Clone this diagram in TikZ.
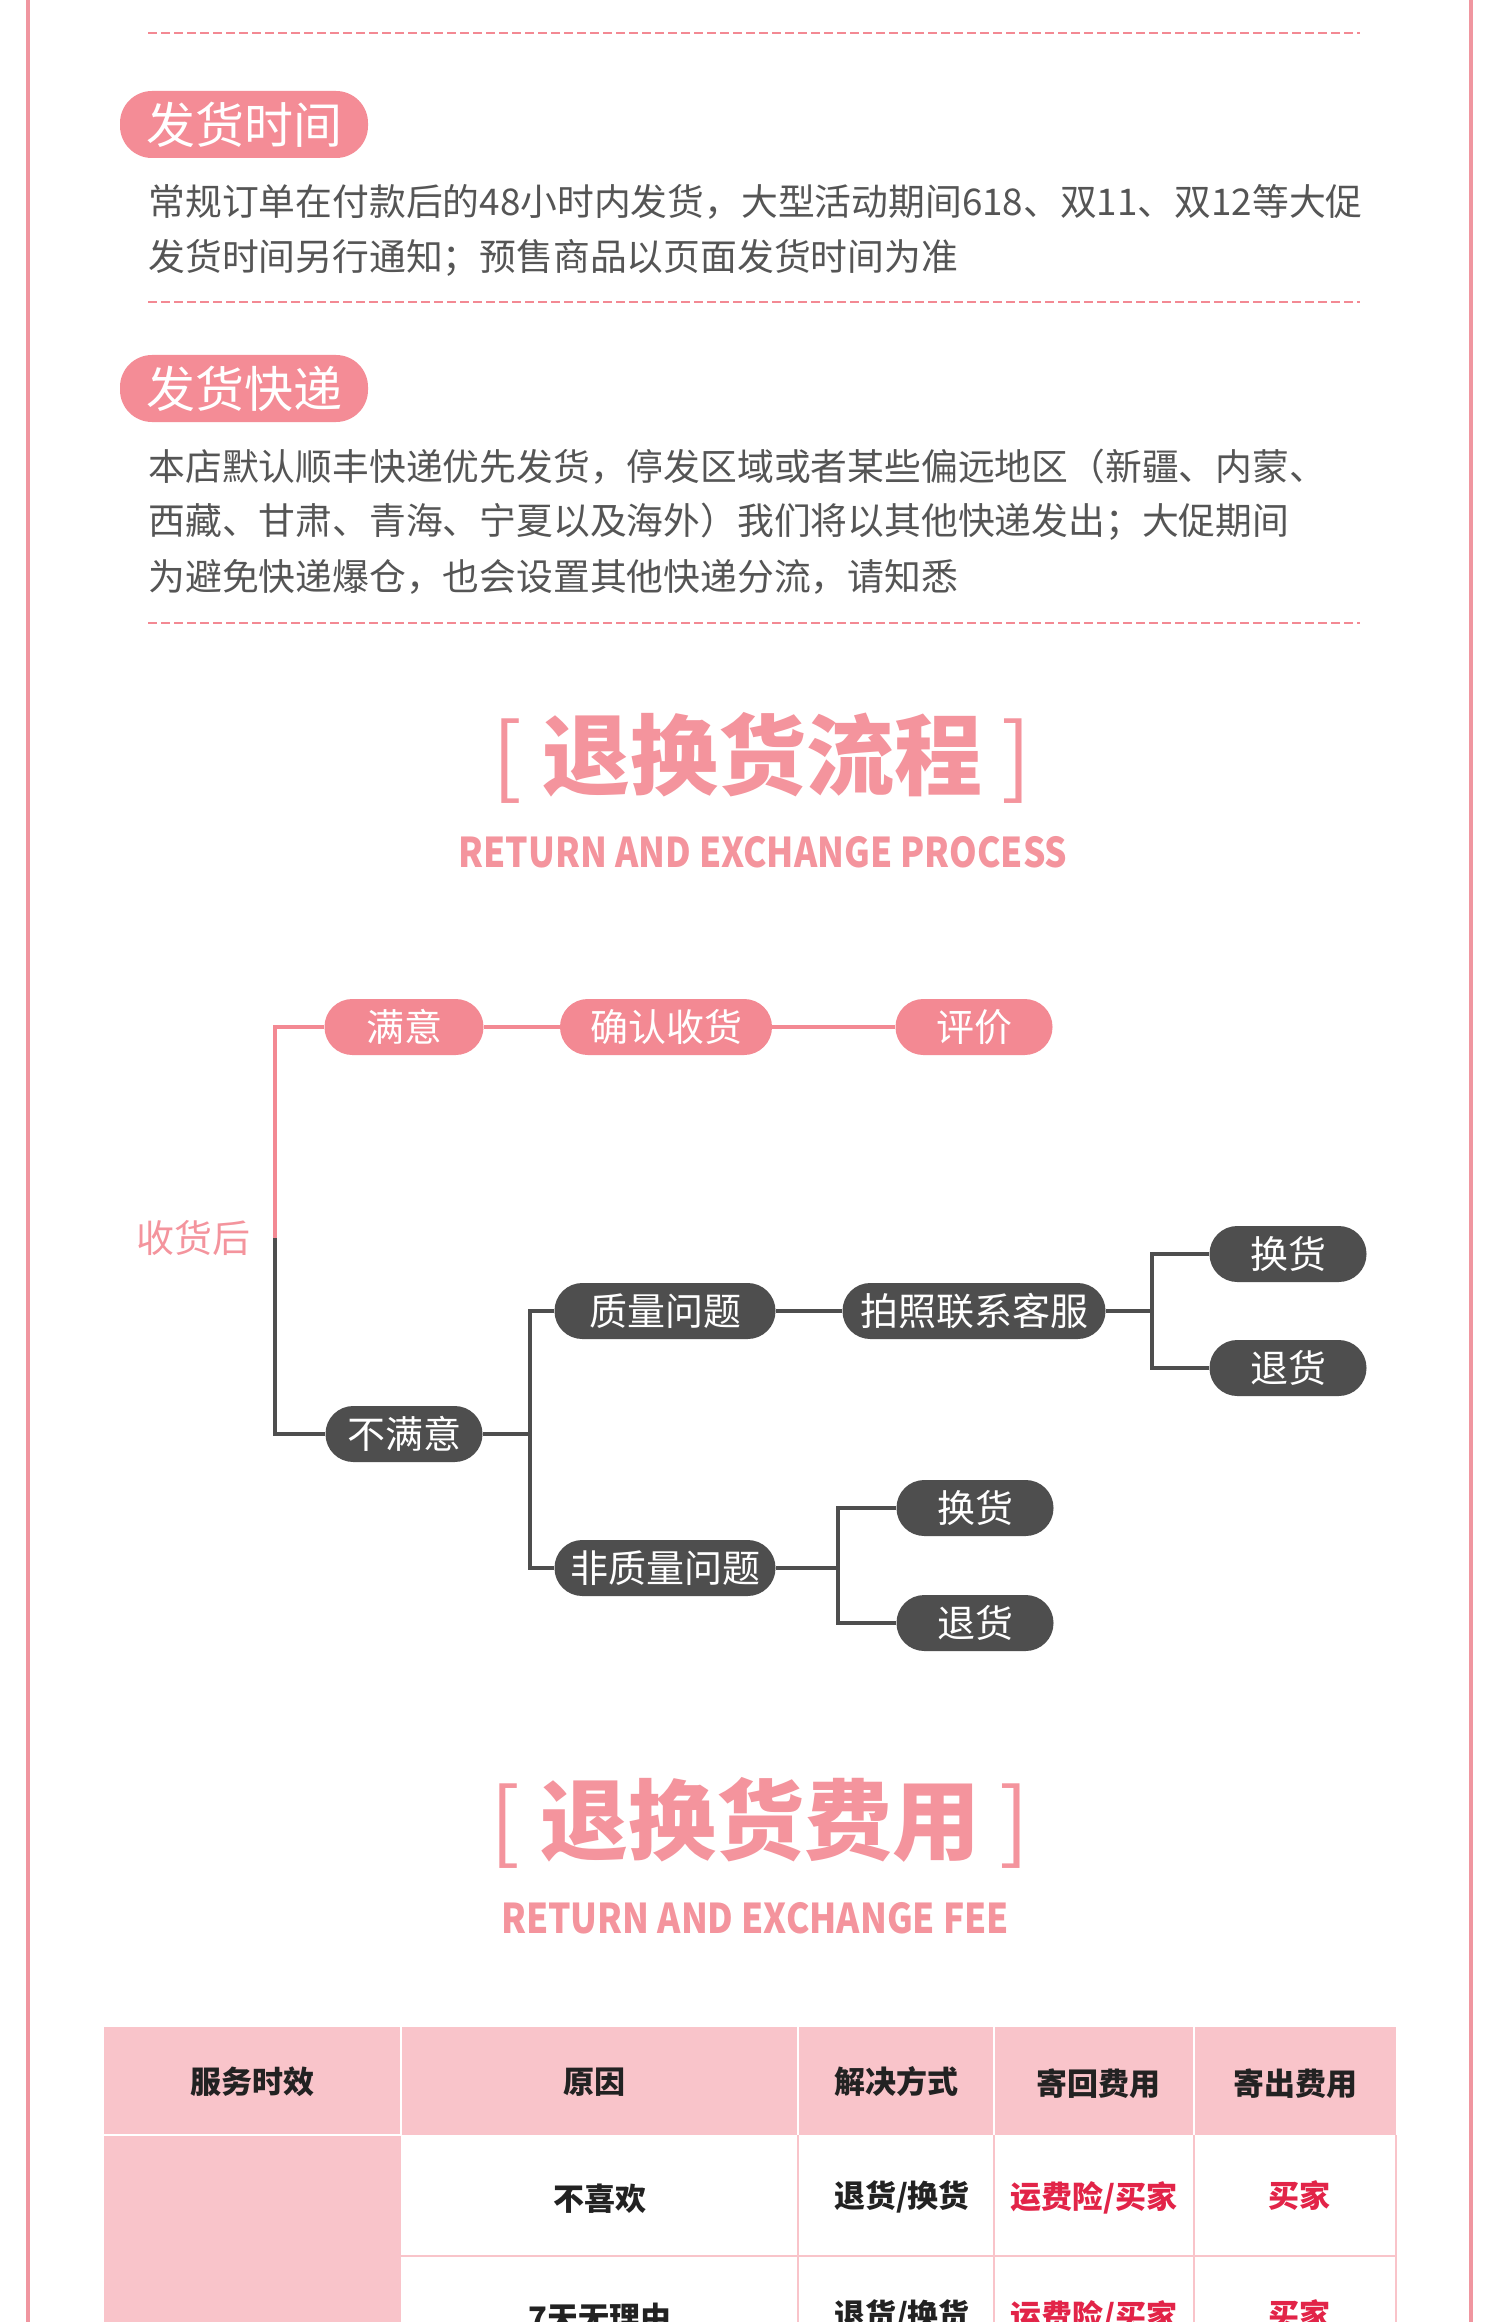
\documentclass[tikz,border=0pt]{standalone}
\usepackage{fontspec}
\setmainfont{Noto Sans CJK SC}
\definecolor{pinkA}{RGB}{243,137,147}
\definecolor{pinkB}{RGB}{244,140,150}
\definecolor{pinkT}{RGB}{244,148,157}
\definecolor{pinkBorder}{RGB}{240,150,160}
\definecolor{pinkHdr}{RGB}{249,196,202}
\definecolor{darkA}{RGB}{78,78,78}
\definecolor{textgray}{RGB}{85,85,85}
\definecolor{tblred}{RGB}{226,36,72}
\definecolor{tbltext}{RGB}{34,34,34}
\begin{document}
\begin{tikzpicture}[x=0.5pt,y=-0.5pt,
  pill/.style={rectangle, rounded corners=13.9pt, minimum height=28pt, inner sep=0pt, text=white, font=\fontsize{19}{19}\selectfont},
  pinkpill/.style={pill, fill=pinkA},
  darkpill/.style={pill, fill=darkA},
  pinkline/.style={draw=pinkA, line width=1.6pt},
  darkline/.style={draw=darkA, line width=1.6pt},
  para/.style={anchor=west, text=textgray, font=\fontsize{18.4}{18.4}\selectfont, inner sep=0pt},
  badge/.style={rectangle, rounded corners=16pt, fill=pinkB, text=white, minimum width=124pt, minimum height=33.5pt, inner sep=0pt, font=\fontsize{24.5}{24.5}\selectfont},
  dashsep/.style={draw=pinkA, line width=1pt, dash pattern=on 4.5pt off 2pt},
  bigtitle/.style={text=pinkT, inner sep=0pt, font=\fontsize{44}{44}\selectfont},
  subtitle/.style={text=pinkT, inner sep=0pt, font=\fontsize{20.5}{20.5}\selectfont\bfseries},
  hdrtext/.style={text=tbltext, inner sep=0pt, font=\fontsize{15.5}{15.5}\selectfont\bfseries},
  celltext/.style={text=tbltext, inner sep=0pt, font=\fontsize{15.5}{15.5}\selectfont\bfseries},
  redtext/.style={text=tblred, inner sep=0pt, font=\fontsize{15.5}{15.5}\selectfont\bfseries},
  hdrsep/.style={draw=white, line width=1pt},
  bodysep/.style={draw=pinkHdr, line width=1pt}
]
\useasboundingbox (0,0) rectangle (1500,2322);
\fill[white] (0,0) rectangle (1500,2322);
\clip (0,0) rectangle (1500,2322);

% page border
\draw[draw=pinkBorder, line width=2pt] (28,0) -- (28,2322);
\draw[draw=pinkBorder, line width=2pt] (1471,0) -- (1471,2322);

% separators
\draw[dashsep] (148,33) -- (1360,33);
\draw[dashsep] (148,302) -- (1360,302);
\draw[dashsep] (148,623) -- (1360,623);

% section: shipping time
\node[badge] (badge1) at (244,124.5) {发货时间};
\node[para] (p1a) at (148,202) {常规订单在付款后的48小时内发货，大型活动期间618、双11、双12等大促};
\node[para] (p1b) at (148,258) {发货时间另行通知；预售商品以页面发货时间为准};

% section: courier
\node[badge] (badge2) at (244,388.5) {发货快递};
\node[para] (p2a) at (148,467) {本店默认顺丰快递优先发货，停发区域或者某些偏远地区（新疆、内蒙、};
\node[para] (p2b) at (148,522) {西藏、甘肃、青海、宁夏以及海外）我们将以其他快递发出；大促期间};
\node[para] (p2c) at (148,577) {为避免快递爆仓，也会设置其他快递分流，请知悉};

% title 1
\node[bigtitle] (title1) at (762,758) {[ \textbf{退换货流程} ]};
\node[subtitle] (sub1) at (763,852) {\scalebox{0.86}[1]{RETURN AND EXCHANGE PROCESS}};

% flowchart
\node[text=pinkT, inner sep=0pt, font=\fontsize{19}{19}\selectfont] (shouhou) at (193,1238) {收货后};
\coordinate (split) at (275,1238);

\node[pinkpill, minimum width=79.5pt] (manyi) at (404,1027) {满意};
\node[pinkpill, minimum width=106pt] (queren) at (666,1027) {确认收货};
\node[pinkpill, minimum width=78.5pt] (pingjia) at (974,1027) {评价};

\node[darkpill, minimum width=78.5pt] (bumanyi) at (404,1434) {不满意};
\node[darkpill, minimum width=110.5pt] (zhiliang) at (665,1311) {质量问题};
\node[darkpill, minimum width=131.5pt] (paizhao) at (974,1311) {拍照联系客服};
\node[darkpill, minimum width=78.5pt] (huan1) at (1288,1254) {换货};
\node[darkpill, minimum width=78.5pt] (tui1) at (1288,1368) {退货};
\node[darkpill, minimum width=110.5pt] (feizhiliang) at (665,1568) {非质量问题};
\node[darkpill, minimum width=78.5pt] (huan2) at (975,1508) {换货};
\node[darkpill, minimum width=78.5pt] (tui2) at (975,1623) {退货};

\coordinate (j1) at (530,1434);
\coordinate (j2) at (1152,1311);
\coordinate (j3) at (838,1568);

\draw[pinkline] (split) |- (manyi.west);
\draw[pinkline] (manyi.east) -- (queren.west);
\draw[pinkline] (queren.east) -- (pingjia.west);
\draw[darkline] (split) |- (bumanyi.west);
\draw[darkline] (bumanyi.east) -- (j1);
\draw[darkline] (zhiliang.west) -| (j1) |- (feizhiliang.west);
\draw[darkline] (zhiliang.east) -- (paizhao.west);
\draw[darkline] (paizhao.east) -- (j2);
\draw[darkline] (huan1.west) -| (j2) |- (tui1.west);
\draw[darkline] (feizhiliang.east) -- (j3);
\draw[darkline] (huan2.west) -| (j3) |- (tui2.west);

% title 2
\node[bigtitle] (title2) at (760,1823) {[ \textbf{退换货费用} ]};
\node[subtitle] (sub2) at (755,1918) {\scalebox{0.86}[1]{RETURN AND EXCHANGE FEE}};

% table
\fill[pinkHdr] (104,2027) rectangle (1396,2135);
\fill[pinkHdr] (104,2135) rectangle (401,2400);
\draw[hdrsep] (401,2027) -- (401,2135);
\draw[hdrsep] (798,2027) -- (798,2135);
\draw[hdrsep] (994,2027) -- (994,2135);
\draw[hdrsep] (1194,2027) -- (1194,2135);
\draw[hdrsep] (104,2135) -- (401,2135);
\draw[bodysep] (798,2135) -- (798,2400);
\draw[bodysep] (994,2135) -- (994,2400);
\draw[bodysep] (1194,2135) -- (1194,2400);
\draw[bodysep] (1396,2135) -- (1396,2400);
\draw[bodysep] (401,2256) -- (1396,2256);

\node[hdrtext] (h1) at (252,2082) {服务时效};
\node[hdrtext] (h2) at (594,2082) {原因};
\node[hdrtext] (h3) at (896,2082) {解决方式};
\node[hdrtext] (h4) at (1098,2084) {寄回费用};
\node[hdrtext] (h5) at (1295,2084) {寄出费用};

\node[celltext] (r1c2) at (600,2199) {不喜欢};
\node[celltext] (r1c3) at (902,2197) {退货/换货};
\node[redtext] (r1c4) at (1094,2198) {运费险/买家};
\node[redtext] (r1c5) at (1299,2196) {买家};

\node[celltext] (r2c2) at (600,2318) {7天无理由};
\node[celltext] (r2c3) at (902,2316) {退货/换货};
\node[redtext] (r2c4) at (1094,2317) {运费险/买家};
\node[redtext] (r2c5) at (1299,2315) {买家};
\end{tikzpicture}
\end{document}
